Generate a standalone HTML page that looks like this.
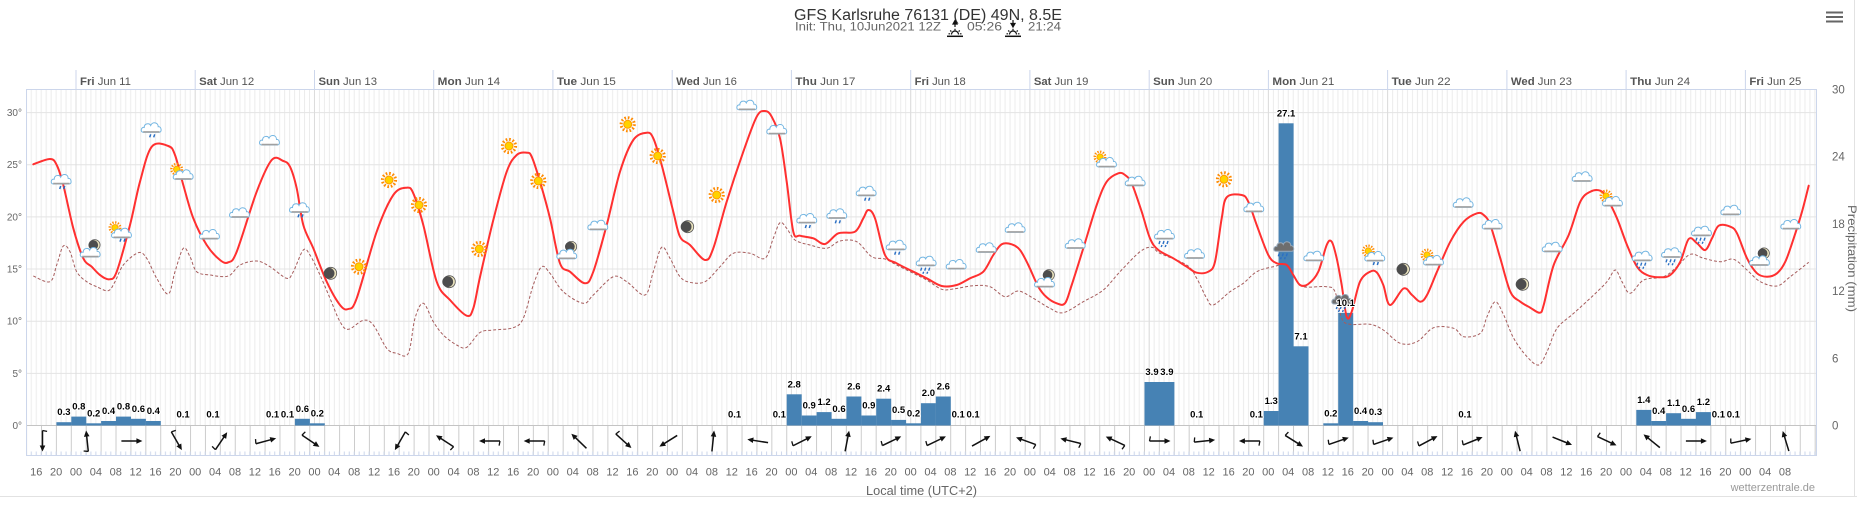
<!DOCTYPE html>
<html><head><meta charset="utf-8"><style>
html,body{margin:0;padding:0;background:#fff;}
svg{display:block;font-family:"Liberation Sans",Arial,sans-serif;}
.bl{font-size:9.5px;font-weight:bold;fill:#000;text-anchor:middle;paint-order:stroke;stroke:#fff;stroke-width:2px;stroke-linejoin:round;}
</style></head><body>
<svg width="1857" height="505" viewBox="0 0 1857 505" xmlns="http://www.w3.org/2000/svg">
<defs>
<pattern id="hr" patternUnits="userSpaceOnUse" x="75.5" y="0" width="119.24" height="505">
<path d="M0.5,0V505M5.47,0V505M10.44,0V505M15.4,0V505M20.37,0V505M25.34,0V505M30.31,0V505M35.28,0V505M40.25,0V505M45.22,0V505M50.18,0V505M55.15,0V505M60.12,0V505M65.09,0V505M70.06,0V505M75.03,0V505M79.99,0V505M84.96,0V505M89.93,0V505M94.9,0V505M99.87,0V505M104.84,0V505M109.8,0V505M114.77,0V505" stroke="#ececec" stroke-width="1"/>
</pattern>
<pattern id="hrb" patternUnits="userSpaceOnUse" x="75.5" y="0" width="119.24" height="505">
<path d="M0.5,0V505M5.47,0V505M10.44,0V505M15.4,0V505M20.37,0V505M25.34,0V505M30.31,0V505M35.28,0V505M40.25,0V505M45.22,0V505M50.18,0V505M55.15,0V505M60.12,0V505M65.09,0V505M70.06,0V505M75.03,0V505M79.99,0V505M84.96,0V505M89.93,0V505M94.9,0V505M99.87,0V505M104.84,0V505M109.8,0V505M114.77,0V505" stroke="#ccd6eb" stroke-width="1"/>
</pattern>
<pattern id="wb" patternUnits="userSpaceOnUse" x="55.9" y="0" width="14.905" height="505">
<rect x="0" y="0" width="1" height="505" fill="#cccccc"/>
</pattern>
<g id="cloud">
<path d="M-8.5,4 C-11.5,4 -11,-1.5 -7.5,-0.8 C-7.5,-4.8 -2.5,-5.8 -1,-2.8 C0.5,-6.8 6.5,-6.3 6.5,-1.6 C9.8,-2 10.5,4 7.5,4 Z" fill="#fff" stroke="#74b6e2" stroke-width="1"/>
<path d="M-8.5,3.6 H7.8" stroke="#a0a0a0" stroke-width="1.6"/>
</g>
<g id="dcloud">
<path d="M-8.5,4 C-11.5,4 -11,-1.5 -7.5,-0.8 C-7.5,-4.8 -2.5,-5.8 -1,-2.8 C0.5,-6.8 6.5,-6.3 6.5,-1.6 C9.8,-2 10.5,4 7.5,4 Z" fill="#6e6e6e" stroke="#9ab" stroke-width="1"/>
</g>
<g id="drops"><path d="M-1,6 l-1,3 M3,6 l-1,3" stroke="#2a6fc4" stroke-width="1.5"/></g>
<g id="drops2"><path d="M-5,6 l-1,3 M-1,6 l-1,3 M3,6 l-1,3 M-3,10 l-0.8,2 M1,10 l-0.8,2" stroke="#2a6fc4" stroke-width="1.4"/></g>
<g id="sun"><circle r="6.6" fill="none" stroke="#ff8a00" stroke-width="3" stroke-dasharray="1.6 1.85"/><circle r="4" fill="#ffd200" stroke="#ff9a00" stroke-width="1"/></g>
<g id="moon"><circle r="6" fill="#e9e2bd" stroke="#555" stroke-width="0.8"/><circle cx="-1.6" r="5.4" fill="#4d4d4d"/></g>
<g id="rain"><use href="#cloud"/><use href="#drops"/></g>
<g id="rain2"><use href="#cloud"/><use href="#drops2"/></g>
<g id="drain"><use href="#dcloud"/><use href="#drops2"/></g>
<g id="sc"><use href="#sun" transform="translate(-5,-4) scale(0.8)"/><use href="#cloud" transform="translate(2,2)"/></g>
<g id="scr"><use href="#sun" transform="translate(-5,-4) scale(0.8)"/><use href="#cloud" transform="translate(2,2)"/><use href="#drops" transform="translate(2,1)"/></g>
<g id="mc"><use href="#moon" transform="translate(3,-5) scale(0.9)"/><use href="#cloud" transform="translate(-1,3)"/></g>
<g id="ar"><path d="M-10.5,0 H6" stroke="#111" stroke-width="1.5"/><path d="M10.5,0 L4.5,-2.8 L4.5,2.8 Z" fill="#111"/></g>
<g id="arb"><use href="#ar"/><path d="M-10.5,0 L-9.6,-4.6" stroke="#111" stroke-width="1.3"/></g>
</defs>

<rect x="0" y="0" width="1857" height="505" fill="#fff"/>

<!-- container edges -->
<path d="M0,496.5H1857 M1854.5,0V497" stroke="#e2e2e2" stroke-width="1"/>

<!-- title -->
<text x="794" y="20" font-size="15.5" fill="#333" textLength="268" lengthAdjust="spacingAndGlyphs">GFS Karlsruhe 76131 (DE) 49N, 8.5E</text>
<text x="795" y="30.5" font-size="12" fill="#666" textLength="146" lengthAdjust="spacingAndGlyphs">Init: Thu, 10Jun2021 12Z</text>
<text x="967" y="30.5" font-size="12" fill="#666" textLength="35" lengthAdjust="spacingAndGlyphs">05:26</text>
<text x="1028" y="30.5" font-size="12" fill="#666" textLength="33" lengthAdjust="spacingAndGlyphs">21:24</text>
<!-- sunrise icon -->
<g stroke="#111" stroke-width="1.2" fill="none">
<path d="M955,27V21.5"/><path d="M953,24 L955,20.5 L957,24Z" fill="#111"/>
<path d="M951.5,34.5 a3.5,3.5 0 0 1 7,0"/>
<path d="M955,28.8v1.6 M950.2,30.5l1.2,1.1 M959.8,30.5l-1.2,1.1 M948.5,33.8h1.6 M961.5,33.8h-1.6"/>
<path d="M947,36.3H963" stroke-width="1.5"/>
</g>
<!-- sunset icon -->
<g stroke="#111" stroke-width="1.2" fill="none">
<path d="M1013,20V25.5"/><path d="M1011,23.5 L1013,27 L1015,23.5Z" fill="#111"/>
<path d="M1009.5,34.5 a3.5,3.5 0 0 1 7,0"/>
<path d="M1013,28.8v1.6 M1008.2,30.5l1.2,1.1 M1017.8,30.5l-1.2,1.1 M1006.5,33.8h1.6 M1019.5,33.8h-1.6"/>
<path d="M1005,36.3H1021" stroke-width="1.5"/>
</g>

<!-- hamburger -->
<path d="M1826,12.5H1843 M1826,17H1843 M1826,21.5H1843" stroke="#666" stroke-width="2"/>

<!-- plot grid -->
<rect x="27" y="89.5" width="1789" height="336" fill="url(#hr)"/>
<path d="M27,112.6H1816 M27,164.75H1816 M27,216.9H1816 M27,269.05H1816 M27,321.2H1816 M27,373.35H1816" stroke="#e4e4e4" stroke-width="1"/>
<path d="M76,89V425.5 M195.2,89V425.5 M314.5,89V425.5 M433.7,89V425.5 M552.9,89V425.5 M672.2,89V425.5 M791.4,89V425.5 M910.7,89V425.5 M1029.9,89V425.5 M1149.2,89V425.5 M1268.4,89V425.5 M1387.6,89V425.5 M1506.9,89V425.5 M1626.1,89V425.5 M1745.4,89V425.5" stroke="#dcdcdc" stroke-width="1"/>
<!-- header day ticks -->
<path d="M76,70V89 M195.2,70V89 M314.5,70V89 M433.7,70V89 M552.9,70V89 M672.2,70V89 M791.4,70V89 M910.7,70V89 M1029.9,70V89 M1149.2,70V89 M1268.4,70V89 M1387.6,70V89 M1506.9,70V89 M1626.1,70V89 M1745.4,70V89" stroke="#ccd6eb" stroke-width="1"/>

<!-- wind row -->
<rect x="27" y="426" width="1789" height="29" fill="url(#wb)"/>
<rect x="27" y="451.5" width="1789" height="4" fill="url(#hrb)"/>
<path d="M27,455.5H1816" stroke="#ccd6eb" stroke-width="1"/>
<path d="M27,425.5H1816" stroke="#c4c4c4" stroke-width="1"/>
<!-- plot border -->
<path d="M26.5,89.5H1816.5 M26.5,89V456 M1816.5,89V456" stroke="#ccd6eb" stroke-width="1" fill="none"/>

<!-- day labels -->
<g font-size="11" fill="#555">
<text x="80" y="85" textLength="51" lengthAdjust="spacingAndGlyphs"><tspan font-weight="bold">Fri</tspan> Jun 11</text>
<text x="199.2" y="85" textLength="55" lengthAdjust="spacingAndGlyphs"><tspan font-weight="bold">Sat</tspan> Jun 12</text>
<text x="318.5" y="85" textLength="58.5" lengthAdjust="spacingAndGlyphs"><tspan font-weight="bold">Sun</tspan> Jun 13</text>
<text x="437.7" y="85" textLength="62.5" lengthAdjust="spacingAndGlyphs"><tspan font-weight="bold">Mon</tspan> Jun 14</text>
<text x="556.9" y="85" textLength="59" lengthAdjust="spacingAndGlyphs"><tspan font-weight="bold">Tue</tspan> Jun 15</text>
<text x="676.2" y="85" textLength="60.7" lengthAdjust="spacingAndGlyphs"><tspan font-weight="bold">Wed</tspan> Jun 16</text>
<text x="795.4" y="85" textLength="60" lengthAdjust="spacingAndGlyphs"><tspan font-weight="bold">Thu</tspan> Jun 17</text>
<text x="914.7" y="85" textLength="51" lengthAdjust="spacingAndGlyphs"><tspan font-weight="bold">Fri</tspan> Jun 18</text>
<text x="1033.9" y="85" textLength="54.5" lengthAdjust="spacingAndGlyphs"><tspan font-weight="bold">Sat</tspan> Jun 19</text>
<text x="1153.2" y="85" textLength="59" lengthAdjust="spacingAndGlyphs"><tspan font-weight="bold">Sun</tspan> Jun 20</text>
<text x="1272.4" y="85" textLength="62" lengthAdjust="spacingAndGlyphs"><tspan font-weight="bold">Mon</tspan> Jun 21</text>
<text x="1391.6" y="85" textLength="59" lengthAdjust="spacingAndGlyphs"><tspan font-weight="bold">Tue</tspan> Jun 22</text>
<text x="1510.9" y="85" textLength="61" lengthAdjust="spacingAndGlyphs"><tspan font-weight="bold">Wed</tspan> Jun 23</text>
<text x="1630.1" y="85" textLength="60" lengthAdjust="spacingAndGlyphs"><tspan font-weight="bold">Thu</tspan> Jun 24</text>
<text x="1749.4" y="85" textLength="52" lengthAdjust="spacingAndGlyphs"><tspan font-weight="bold">Fri</tspan> Jun 25</text>
</g>

<!-- left axis labels -->
<g font-size="10" fill="#666" text-anchor="end">
<text x="22" y="116">30°</text>
<text x="22" y="168.2">25°</text>
<text x="22" y="220.4">20°</text>
<text x="22" y="272.5">15°</text>
<text x="22" y="324.7">10°</text>
<text x="22" y="376.8">5°</text>
<text x="22" y="429">0°</text>
</g>
<!-- right axis labels -->
<g font-size="11.5" fill="#666">
<text x="1832" y="93.5">30</text>
<text x="1832" y="160.7">24</text>
<text x="1832" y="227.9">18</text>
<text x="1832" y="295.1">12</text>
<text x="1832" y="362.3">6</text>
<text x="1832" y="429.5">0</text>
</g>
<text transform="translate(1848,258.5) rotate(90)" text-anchor="middle" font-size="12" fill="#666" textLength="107" lengthAdjust="spacingAndGlyphs">Precipitation (mm)</text>

<!-- bars -->
<g fill="#4682b4">
<rect x="56.4" y="422.2" width="15" height="3.3"/>
<rect x="71.3" y="416.6" width="15" height="8.9"/>
<rect x="86.2" y="423.3" width="15" height="2.2"/>
<rect x="101.1" y="421" width="15" height="4.5"/>
<rect x="116" y="416.6" width="15" height="8.9"/>
<rect x="130.9" y="418.8" width="15" height="6.7"/>
<rect x="145.8" y="421" width="15" height="4.5"/>
<rect x="294.9" y="418.8" width="15" height="6.7"/>
<rect x="309.8" y="423.3" width="15" height="2.2"/>
<rect x="786.7" y="394.3" width="15" height="31.2"/>
<rect x="801.7" y="415.5" width="15" height="10"/>
<rect x="816.6" y="412.1" width="15" height="13.4"/>
<rect x="831.5" y="418.8" width="15" height="6.7"/>
<rect x="846.4" y="396.5" width="15" height="29"/>
<rect x="861.3" y="415.5" width="15" height="10"/>
<rect x="876.2" y="398.7" width="15" height="26.8"/>
<rect x="891.1" y="419.9" width="15" height="5.6"/>
<rect x="906" y="423.3" width="15" height="2.2"/>
<rect x="920.9" y="403.2" width="15" height="22.3"/>
<rect x="935.8" y="396.5" width="15" height="29"/>
<rect x="1144.5" y="382" width="15" height="43.5"/>
<rect x="1159.4" y="382" width="15" height="43.5"/>
<rect x="1263.7" y="411" width="15" height="14.5"/>
<rect x="1278.6" y="123.3" width="15" height="302.2"/>
<rect x="1293.5" y="346.3" width="15" height="79.2"/>
<rect x="1323.3" y="423.3" width="15" height="2.2"/>
<rect x="1338.2" y="312.9" width="15" height="112.6"/>
<rect x="1353.1" y="421" width="15" height="4.5"/>
<rect x="1368" y="422.2" width="15" height="3.3"/>
<rect x="1636.3" y="409.9" width="15" height="15.6"/>
<rect x="1651.2" y="421" width="15" height="4.5"/>
<rect x="1666.1" y="413.2" width="15" height="12.3"/>
<rect x="1681" y="418.8" width="15" height="6.7"/>
<rect x="1695.9" y="412.1" width="15" height="13.4"/>
</g>

<!-- dew point -->
<polyline class="sm" fill="none" stroke="#a65c5c" stroke-width="1" stroke-dasharray="3,2" points="33.3,276 50,281.7 56.7,265 63.3,246 70,251.7 76.7,271.7 86.7,281.7 96.7,286.7 108.3,290.7 115,281.7 123.3,265 138.3,252.7 146.7,258.3 156.7,278.3 168.3,294 175,271.7 183.3,248.3 190,256.7 196.7,271.7 210,275 228.3,276 240,265 256.7,261 270,266.7 286.7,278.3 293.3,271.7 303.3,250 310,255 320,275 330,298.3 340,321.7 348.3,329.3 363.3,320.3 373.3,325 386.7,348.3 396.7,353.3 408.3,353.3 415,318.3 423.3,303.3 433.3,321.7 443.3,335 456.7,345 466.7,347.3 480,332.5 493.3,330 513.3,327.7 523.3,318.3 533.3,285 541.7,266.7 550,273.3 563.3,291.7 583.3,303.3 593.3,295 613.3,276.7 626.7,281.7 645,295 653.3,271.7 661.7,247.3 670,258.3 680,276.7 690,282.3 705,281.7 720,266.7 733.3,253.3 750,253.3 765,258.3 773.3,238.3 780,222.7 786.7,228.3 795,240 810,245 826.7,248.3 840,241 856.7,241.7 871.7,256.7 885,259 896.7,265 913.3,273.3 926.7,280 941.7,289.3 953.3,289 973.3,285.7 990,286.7 1005,296.7 1018.3,291 1033.3,298.3 1050,308.3 1063.3,312.7 1083.3,301.7 1103.3,290 1120,271.7 1140,251.7 1151.7,247.3 1160,253.3 1186.7,265 1196.7,278.3 1206.7,298.3 1213.3,305 1230,291.7 1243.3,283.3 1256.7,271.7 1273.3,266.7 1286.7,265 1295,278.3 1303.3,286.7 1326.7,286.7 1335,291.7 1341.7,318.3 1350,324.3 1370,324.3 1383.3,330 1400.3,343.3 1417,341.7 1433.7,327.7 1453.7,328.3 1463.7,336.7 1480.3,333.3 1487,316.7 1495.3,301.7 1503.7,315 1513.7,338.3 1527,356.7 1538.7,365 1547,351.7 1557,328.3 1573.7,313.3 1593.7,295 1607,281.7 1615.3,270 1622,281.7 1630.3,293.3 1643.7,280 1663.7,276.7 1677,266.7 1690.3,254.3 1703.7,258.3 1720.3,261.7 1733.7,259.3 1747,270 1760.3,281.7 1777,286 1790.3,276.7 1808.7,262.3"/>

<!-- temperature -->
<polyline class="sm" fill="none" stroke="#ff3030" stroke-width="2" stroke-linejoin="round" stroke-linecap="round" points="33.3,164.3 50,159 56.7,165 63.3,185 73.3,228.3 83.3,258.3 91.7,266.7 100,275 109.3,279.3 116.7,271.7 130,225 140,181.7 151.7,146.7 168.3,146 175,155 183.3,185 193.3,218.3 206.7,245 220,260 228.3,262.3 236.7,251.7 256.7,191.7 271.7,160 283.3,161 290,166.7 296.7,188.3 303.3,225 313.3,248.3 326.7,281.7 340,305 348.3,309 356.7,298.3 376.7,231.7 393.3,195 406.7,187.7 413.3,193.3 423.3,225 436.7,281.7 450,300 466.7,315.7 473.3,308.3 480,277 493.3,220 506.7,171.7 516.7,155 526.7,152.7 531.7,156.7 540,181.7 550,218.3 560,263.3 570,271.7 585,283.3 593.3,271.7 606.7,225 620,171.7 633.3,140 646.7,132.7 653.3,138.3 661.7,165 673.3,211.7 680,236.7 690,245 705,260 713.3,248.3 726.7,201.7 743.3,151.7 756.7,116.7 765,111 771.7,116.7 780,138.3 786.7,181.7 793.3,231.7 800,235.7 813.3,238.3 825,244 838.3,233.3 855,231.7 863.3,218.3 868.3,210 875,218.3 885,255 896.7,263.3 913.3,271.7 926.7,278.3 941.7,286 956.7,285 970,278.3 983.3,271.7 993.3,255 1001.7,244.3 1011.7,244.3 1020,250 1028.3,265 1038.3,286.7 1046.7,297.3 1056.7,303.3 1065,303.3 1071.7,285 1083.3,248.3 1096.7,205 1106.7,181.7 1118.3,173.3 1125,175 1131.7,183.3 1141.7,211.7 1150,238.3 1158.3,250 1173.3,258.3 1186.7,266.7 1196.7,272.7 1208.3,271.7 1215,261.7 1221.7,218.3 1226.7,197.3 1241.7,195 1248.3,201.7 1256.7,225 1268.3,255 1276.7,263.3 1286.7,265 1293.3,275 1300,285 1308.3,284 1318.3,271.7 1326.7,245 1331.7,241.7 1336.7,258.3 1341.7,285 1346.7,316.7 1351.7,311.7 1360,281.7 1370,271.7 1376.7,272.3 1383.3,285 1390,305 1403.5,288.5 1412,295 1420.3,301.7 1427,295 1437,271.7 1450.3,241.7 1463.7,221.7 1477,213.3 1483.7,215 1490.3,225 1500.3,258.3 1510.3,291.7 1520.3,301.7 1530.3,307.7 1539.7,312.7 1543.7,305 1553.7,265 1568.7,235 1580.3,201.7 1590.3,191.7 1600.3,190.7 1607,198.3 1617,218.3 1627,245 1637,266.7 1647,275 1660.3,277.3 1670.3,275 1680.3,261.7 1688.7,239 1697,243.3 1705.3,250 1712,238.3 1718.7,225.7 1730.3,226.7 1737,233.3 1747,258.3 1757,273.3 1767,276.7 1777,273.3 1785.3,261.7 1793.7,238.3 1802,211.7 1808.7,185.7"/>

<!-- weather icons -->
<use href="#rain" x="61.7" y="180"/>
<use href="#mc" x="91.7" y="250"/>
<use href="#scr" x="120" y="231.7"/>
<use href="#rain" x="151.7" y="128.3"/>
<use href="#sc" x="181.7" y="173.3"/>
<use href="#cloud" x="210" y="235"/>
<use href="#cloud" x="240" y="213.3"/>
<use href="#cloud" x="270" y="141"/>
<use href="#rain" x="300" y="208.3"/>
<use href="#moon" x="330.7" y="273.3"/>
<use href="#sun" x="359" y="266.7"/>
<use href="#sun" x="389" y="180"/>
<use href="#sun" x="419" y="205"/>
<use href="#moon" x="449.3" y="281.7"/>
<use href="#sun" x="479.3" y="249"/>
<use href="#sun" x="509" y="146"/>
<use href="#sun" x="538.3" y="181"/>
<use href="#mc" x="568.3" y="251.7"/>
<use href="#cloud" x="598.3" y="225.7"/>
<use href="#sun" x="627.7" y="124.3"/>
<use href="#sun" x="657.7" y="156"/>
<use href="#moon" x="687.7" y="226.7"/>
<use href="#sun" x="716.7" y="195"/>
<use href="#cloud" x="747.3" y="105.7"/>
<use href="#cloud" x="777.3" y="130"/>
<use href="#rain" x="807.3" y="219"/>
<use href="#rain" x="837.3" y="214.3"/>
<use href="#rain" x="866.7" y="191.7"/>
<use href="#rain" x="896.7" y="245.7"/>
<use href="#rain2" x="926.7" y="261.7"/>
<use href="#cloud" x="956.7" y="265"/>
<use href="#cloud" x="986.7" y="248.3"/>
<use href="#cloud" x="1015.7" y="228.3"/>
<use href="#mc" x="1046" y="280"/>
<use href="#cloud" x="1075.7" y="244.3"/>
<use href="#sc" x="1105" y="161"/>
<use href="#cloud" x="1135.7" y="181.7"/>
<use href="#rain2" x="1165" y="235"/>
<use href="#cloud" x="1195" y="254.3"/>
<use href="#sun" x="1224" y="179.3"/>
<use href="#cloud" x="1254.3" y="207.7"/>
<use href="#drain" x="1284.3" y="247.3"/>
<use href="#cloud" x="1314.3" y="256.7"/>
<use href="#drain" x="1342.3" y="300"/>
<use href="#scr" x="1373.3" y="255"/>
<use href="#moon" x="1403.5" y="269.3"/>
<use href="#sc" x="1432" y="259"/>
<use href="#cloud" x="1463.7" y="203.3"/>
<use href="#cloud" x="1492.7" y="225"/>
<use href="#moon" x="1522.7" y="284.3"/>
<use href="#cloud" x="1552.7" y="247.7"/>
<use href="#cloud" x="1582.7" y="177.3"/>
<use href="#sc" x="1611" y="200"/>
<use href="#rain2" x="1642.7" y="256.7"/>
<use href="#rain2" x="1672" y="253.3"/>
<use href="#rain2" x="1702" y="231.7"/>
<use href="#cloud" x="1731.3" y="210.7"/>
<use href="#mc" x="1761" y="258.3"/>
<use href="#cloud" x="1791.3" y="225"/>

<!-- bar labels -->
<g class="bl">
<text x="63.9" y="415.2">0.3</text>
<text x="78.8" y="409.6">0.8</text>
<text x="93.7" y="416.3">0.2</text>
<text x="108.6" y="414">0.4</text>
<text x="123.5" y="409.6">0.8</text>
<text x="138.4" y="411.8">0.6</text>
<text x="153.3" y="414">0.4</text>
<text x="183.1" y="417.4">0.1</text>
<text x="213" y="417.4">0.1</text>
<text x="272.6" y="417.4">0.1</text>
<text x="287.5" y="417.4">0.1</text>
<text x="302.4" y="411.8">0.6</text>
<text x="317.3" y="416.3">0.2</text>
<text x="734.6" y="417.4">0.1</text>
<text x="779.3" y="417.4">0.1</text>
<text x="794.2" y="387.3">2.8</text>
<text x="809.2" y="408.5">0.9</text>
<text x="824.1" y="405.1">1.2</text>
<text x="839" y="411.8">0.6</text>
<text x="853.9" y="389.5">2.6</text>
<text x="868.8" y="408.5">0.9</text>
<text x="883.7" y="391.7">2.4</text>
<text x="898.6" y="412.9">0.5</text>
<text x="913.5" y="416.3">0.2</text>
<text x="928.4" y="396.2">2.0</text>
<text x="943.3" y="389.5">2.6</text>
<text x="958.2" y="417.4">0.1</text>
<text x="973.1" y="417.4">0.1</text>
<text x="1152" y="375">3.9</text>
<text x="1166.9" y="375">3.9</text>
<text x="1196.7" y="417.4">0.1</text>
<text x="1256.3" y="417.4">0.1</text>
<text x="1271.2" y="404">1.3</text>
<text x="1286.1" y="116.3">27.1</text>
<text x="1301" y="339.3">7.1</text>
<text x="1330.8" y="416.3">0.2</text>
<text x="1345.7" y="305.9">10.1</text>
<text x="1360.6" y="414">0.4</text>
<text x="1375.5" y="415.2">0.3</text>
<text x="1465" y="417.4">0.1</text>
<text x="1643.8" y="402.9">1.4</text>
<text x="1658.7" y="414">0.4</text>
<text x="1673.6" y="406.2">1.1</text>
<text x="1688.5" y="411.8">0.6</text>
<text x="1703.4" y="405.1">1.2</text>
<text x="1718.4" y="417.4">0.1</text>
<text x="1733.3" y="417.4">0.1</text>
</g>

<!-- wind arrows -->
<g>
<use href="#arb" transform="translate(42.5,441) rotate(90)"/>
<use href="#arb" transform="translate(87.2,441) rotate(-96)"/>
<use href="#ar" transform="translate(131.9,441) rotate(0)"/>
<use href="#arb" transform="translate(176.6,441) rotate(60)"/>
<use href="#arb" transform="translate(221.3,441) rotate(-56)"/>
<use href="#arb" transform="translate(266,441) rotate(-15)"/>
<use href="#arb" transform="translate(310.7,441) rotate(34)"/>
<use href="#arb" transform="translate(400.1,441) rotate(120)"/>
<use href="#arb" transform="translate(444.8,441) rotate(-147)"/>
<use href="#arb" transform="translate(489.5,441) rotate(180)"/>
<use href="#arb" transform="translate(534.2,441) rotate(180)"/>
<use href="#ar" transform="translate(578.9,441) rotate(-136)"/>
<use href="#arb" transform="translate(623.6,441) rotate(42)"/>
<use href="#ar" transform="translate(668.3,441) rotate(148)"/>
<use href="#ar" transform="translate(713,441) rotate(-84)"/>
<use href="#ar" transform="translate(757.7,441) rotate(-171)"/>
<use href="#arb" transform="translate(802.4,441) rotate(-27)"/>
<use href="#ar" transform="translate(847.1,441) rotate(-79)"/>
<use href="#arb" transform="translate(891.8,441) rotate(-26)"/>
<use href="#arb" transform="translate(936.5,441) rotate(-26)"/>
<use href="#ar" transform="translate(981.2,441) rotate(-29)"/>
<use href="#arb" transform="translate(1025.9,441) rotate(-160)"/>
<use href="#arb" transform="translate(1070.6,441) rotate(-166)"/>
<use href="#arb" transform="translate(1115.3,441) rotate(-155)"/>
<use href="#arb" transform="translate(1160,441) rotate(0)"/>
<use href="#arb" transform="translate(1204.7,441) rotate(-6)"/>
<use href="#arb" transform="translate(1249.4,441) rotate(180)"/>
<use href="#arb" transform="translate(1294.1,441) rotate(32)"/>
<use href="#arb" transform="translate(1338.8,441) rotate(-19)"/>
<use href="#arb" transform="translate(1383.5,441) rotate(-19)"/>
<use href="#arb" transform="translate(1428.2,441) rotate(-28)"/>
<use href="#arb" transform="translate(1472.9,441) rotate(-22)"/>
<use href="#ar" transform="translate(1517.6,441) rotate(-104)"/>
<use href="#ar" transform="translate(1562.3,441) rotate(22)"/>
<use href="#arb" transform="translate(1607,441) rotate(25)"/>
<use href="#ar" transform="translate(1651.7,441) rotate(-141)"/>
<use href="#ar" transform="translate(1696.4,441) rotate(0)"/>
<use href="#arb" transform="translate(1741.1,441) rotate(-12)"/>
<use href="#ar" transform="translate(1785.8,441) rotate(-107)"/>
</g>

<!-- hour labels -->
<text y="475.5" font-size="11" fill="#666" text-anchor="middle"><tspan x="36.3">16</tspan><tspan x="56.1">20</tspan><tspan x="76">00</tspan><tspan x="95.9">04</tspan><tspan x="115.8">08</tspan><tspan x="135.6">12</tspan><tspan x="155.5">16</tspan><tspan x="175.4">20</tspan><tspan x="195.2">00</tspan><tspan x="215.1">04</tspan><tspan x="235">08</tspan><tspan x="254.9">12</tspan><tspan x="274.7">16</tspan><tspan x="294.6">20</tspan><tspan x="314.5">00</tspan><tspan x="334.3">04</tspan><tspan x="354.2">08</tspan><tspan x="374.1">12</tspan><tspan x="394">16</tspan><tspan x="413.8">20</tspan><tspan x="433.7">00</tspan><tspan x="453.6">04</tspan><tspan x="473.4">08</tspan><tspan x="493.3">12</tspan><tspan x="513.2">16</tspan><tspan x="533.1">20</tspan><tspan x="552.9">00</tspan><tspan x="572.8">04</tspan><tspan x="592.7">08</tspan><tspan x="612.5">12</tspan><tspan x="632.4">16</tspan><tspan x="652.3">20</tspan><tspan x="672.2">00</tspan><tspan x="692">04</tspan><tspan x="711.9">08</tspan><tspan x="731.8">12</tspan><tspan x="751.6">16</tspan><tspan x="771.5">20</tspan><tspan x="791.4">00</tspan><tspan x="811.3">04</tspan><tspan x="831.1">08</tspan><tspan x="851">12</tspan><tspan x="870.9">16</tspan><tspan x="890.8">20</tspan><tspan x="910.6">00</tspan><tspan x="930.5">04</tspan><tspan x="950.4">08</tspan><tspan x="970.2">12</tspan><tspan x="990.1">16</tspan><tspan x="1010">20</tspan><tspan x="1029.9">00</tspan><tspan x="1049.7">04</tspan><tspan x="1069.6">08</tspan><tspan x="1089.5">12</tspan><tspan x="1109.3">16</tspan><tspan x="1129.2">20</tspan><tspan x="1149.1">00</tspan><tspan x="1169">04</tspan><tspan x="1188.8">08</tspan><tspan x="1208.7">12</tspan><tspan x="1228.6">16</tspan><tspan x="1248.4">20</tspan><tspan x="1268.3">00</tspan><tspan x="1288.2">04</tspan><tspan x="1308.1">08</tspan><tspan x="1327.9">12</tspan><tspan x="1347.8">16</tspan><tspan x="1367.7">20</tspan><tspan x="1387.6">00</tspan><tspan x="1407.4">04</tspan><tspan x="1427.3">08</tspan><tspan x="1447.2">12</tspan><tspan x="1467">16</tspan><tspan x="1486.9">20</tspan><tspan x="1506.8">00</tspan><tspan x="1526.7">04</tspan><tspan x="1546.5">08</tspan><tspan x="1566.4">12</tspan><tspan x="1586.3">16</tspan><tspan x="1606.1">20</tspan><tspan x="1626">00</tspan><tspan x="1645.9">04</tspan><tspan x="1665.8">08</tspan><tspan x="1685.6">12</tspan><tspan x="1705.5">16</tspan><tspan x="1725.4">20</tspan><tspan x="1745.3">00</tspan><tspan x="1765.1">04</tspan><tspan x="1785">08</tspan></text>

<text x="921.5" y="495" font-size="13" fill="#666" text-anchor="middle" textLength="111" lengthAdjust="spacingAndGlyphs">Local time (UTC+2)</text>
<text x="1815" y="491" font-size="11" fill="#999" text-anchor="end">wetterzentrale.de</text>
</svg>
<script>
(function(){
var pls=document.querySelectorAll('polyline.sm');
for(var q=0;q<pls.length;q++){
 var pl=pls[q];
 var raw=pl.getAttribute('points').trim().split(/\s+/);
 var pts=[];
 for(var i=0;i<raw.length;i++){var a=raw[i].split(',');pts.push([parseFloat(a[0]),parseFloat(a[1])]);}
 if(pts.length<3)continue;
 var d='M'+pts[0][0]+','+pts[0][1];
 for(var i=0;i<pts.length-1;i++){
  var p0=pts[i>0?i-1:i],p1=pts[i],p2=pts[i+1],p3=pts[i+2<pts.length?i+2:i+1];
  var c1x=p1[0]+(p2[0]-p0[0])/6,c1y=p1[1]+(p2[1]-p0[1])/6;
  var c2x=p2[0]-(p3[0]-p1[0])/6,c2y=p2[1]-(p3[1]-p1[1])/6;
  d+='C'+c1x.toFixed(2)+','+c1y.toFixed(2)+' '+c2x.toFixed(2)+','+c2y.toFixed(2)+' '+p2[0]+','+p2[1];
 }
 var p=document.createElementNS('http://www.w3.org/2000/svg','path');
 for(var j=0;j<pl.attributes.length;j++){var at=pl.attributes[j];if(at.name!=='points'&&at.name!=='class')p.setAttribute(at.name,at.value);}
 p.setAttribute('d',d);
 pl.parentNode.replaceChild(p,pl);
}
})();
</script>
</body></html>
